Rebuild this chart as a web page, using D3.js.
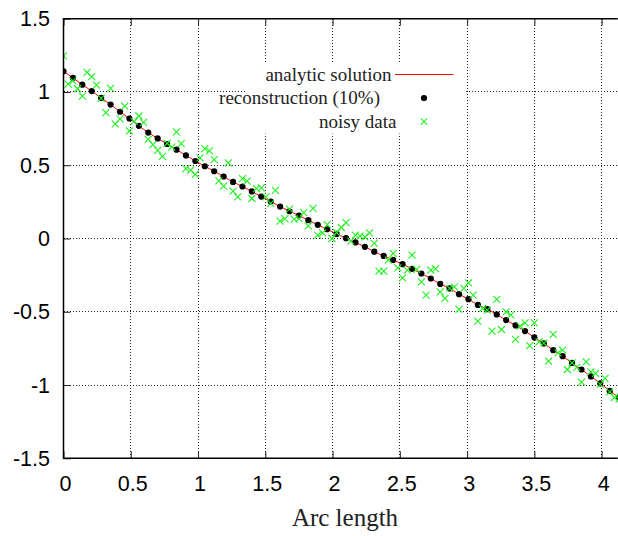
<!DOCTYPE html>
<html>
<head>
<meta charset="utf-8">
<script src="https://cdn.jsdelivr.net/npm/d3@7"></script>
<style>
  html, body { margin: 0; padding: 0; background: #fff; }
  svg { display: block; }
</style>
</head>
<body>
<svg id="chart" width="618" height="536"></svg>
<script>
// Arc-length sampling of the reconstruction (step 0.07) and of the noisy data (step 0.035)
const reconStep = 0.07;
const noisyStep = 0.035;

// Analytic solution sampled on the reconstruction grid
const analyticY = [
  1.141, 1.096, 1.050, 1.006, 0.959, 0.914, 0.865, 0.819, 0.769, 0.723,
  0.683, 0.645, 0.606, 0.567, 0.529, 0.493, 0.459, 0.423, 0.386, 0.355,
  0.321, 0.286, 0.252, 0.218, 0.186, 0.157, 0.125, 0.093, 0.063, 0.031,
  0.002, -0.027, -0.057, -0.090, -0.119, -0.146, -0.175, -0.207, -0.239, -0.273,
  -0.310, -0.341, -0.380, -0.414, -0.453, -0.482, -0.518, -0.557, -0.593, -0.632,
  -0.675, -0.716, -0.762, -0.803, -0.849, -0.894, -0.941, -0.989, -1.040, -1.086
];

// Reconstruction from 10% noisy data
const reconY = [
  1.141, 1.096, 1.050, 1.006, 0.959, 0.914, 0.865, 0.819, 0.769, 0.723,
  0.683, 0.645, 0.606, 0.567, 0.529, 0.493, 0.459, 0.423, 0.386, 0.355,
  0.321, 0.286, 0.252, 0.218, 0.186, 0.157, 0.125, 0.093, 0.063, 0.031,
  0.002, -0.027, -0.057, -0.090, -0.119, -0.146, -0.175, -0.207, -0.239, -0.273,
  -0.310, -0.341, -0.380, -0.414, -0.453, -0.482, -0.518, -0.557, -0.593, -0.632,
  -0.675, -0.716, -0.762, -0.803, -0.849, -0.894, -0.941, -0.989, -1.040, -1.086
];

// Noisy measurements
const noisyY = [
  1.246, 1.053, 1.076, 1.022, 0.972, 1.134, 1.104, 1.046, 0.957, 0.859,
  1.025, 0.783, 0.816, 0.904, 0.735, 0.800, 0.836, 0.793, 0.677, 0.640,
  0.601, 0.561, 0.649, 0.623, 0.727, 0.648, 0.477, 0.466, 0.437, 0.550,
  0.614, 0.598, 0.539, 0.393, 0.357, 0.516, 0.323, 0.284, 0.409, 0.391,
  0.273, 0.341, 0.345, 0.284, 0.239, 0.329, 0.118, 0.136, 0.200, 0.132,
  0.136, 0.177, 0.086, 0.205, 0.023, 0.038, 0.095, 0.000, 0.041, 0.075,
  0.109, -0.018, 0.023, 0.016, 0.011, 0.038, -0.034, -0.223, -0.223, -0.148,
  -0.102, -0.201, -0.269, -0.216, -0.114, -0.211, -0.296, -0.387, -0.216, -0.205,
  -0.364, -0.409, -0.341, -0.330, -0.484, -0.341, -0.303, -0.387, -0.564, -0.477,
  -0.489, -0.632, -0.416, -0.621, -0.501, -0.521, -0.689, -0.598, -0.576, -0.731,
  -0.576, -0.705, -0.714, -0.837, -0.655, -0.780, -0.762, -0.894, -0.849, -0.880,
  -0.980, -0.842, -0.910, -0.921, -0.996, -0.955, -1.046, -1.085, -1.096
];

const xTicks = [0, 0.5, 1, 1.5, 2, 2.5, 3, 3.5, 4];
const xTickLabels = ["0", "0.5", "1", "1.5", "2", "2.5", "3", "3.5", "4"];
const yTicks = [-1.5, -1, -0.5, 0, 0.5, 1, 1.5];
const yTickLabels = ["-1.5", "-1", "-0.5", "0", "0.5", "1", "1.5"];

const seriesNames = ["analytic solution", "reconstruction (10%)", "noisy data"];
const xTitle = "Arc length";

const analytic = analyticY.map((v, i) => ({ x: i * reconStep, y: v }));
const recon = reconY.map((v, i) => ({ x: i * reconStep, y: v }));
const noisy = noisyY.map((v, i) => ({ x: i * noisyStep, y: v }));

const svg = d3.select("#chart");
const plotL = 63.5, plotT = 18.7, plotR = 617.8, plotB = 458.3;

const x = d3.scaleLinear().domain([0, 4.12]).range([plotL, plotR]);
const y = d3.scaleLinear().domain([-1.5, 1.5]).range([plotB, plotT]);

const sans = "'Liberation Sans', Arial, sans-serif";
const serif = "'Liberation Serif', 'Times New Roman', serif";

// Dotted grid
const grid = svg.append("g").attr("class", "grid");
grid.selectAll("line.gx").data(xTicks.filter(d => d > 0)).join("line")
  .attr("class", "gx")
  .attr("x1", d => x(d)).attr("x2", d => x(d))
  .attr("y1", plotT).attr("y2", plotB);
grid.selectAll("line.gy").data(yTicks.filter(d => d > -1.5 && d < 1.5)).join("line")
  .attr("class", "gy")
  .attr("x1", plotL).attr("x2", plotR)
  .attr("y1", d => y(d)).attr("y2", d => y(d));
grid.selectAll("line")
  .attr("stroke", "#222").attr("stroke-width", 1)
  .attr("stroke-dasharray", "1,2").attr("shape-rendering", "crispEdges");

// Legend background interrupts the grid
svg.append("rect").attr("x", 247).attr("y", 62.5).attr("width", 219).attr("height", 71)
  .attr("fill", "#fff");

// Axes with inward ticks, mirrored on top
function styleAxis(g) {
  g.selectAll(".domain").remove();
  g.selectAll(".tick line").attr("stroke", "#222").attr("stroke-width", 1);
}
svg.append("g").attr("transform", `translate(0,${plotB})`)
  .call(d3.axisBottom(x).tickValues(xTicks).tickSize(-7).tickSizeOuter(0).tickFormat(""))
  .call(styleAxis);
svg.append("g").attr("transform", `translate(0,${plotT})`)
  .call(d3.axisTop(x).tickValues(xTicks).tickSize(-7).tickSizeOuter(0).tickFormat(""))
  .call(styleAxis);
svg.append("g").attr("transform", `translate(${plotL},0)`)
  .call(d3.axisLeft(y).tickValues(yTicks).tickSize(-7).tickSizeOuter(0).tickFormat(""))
  .call(styleAxis);

// Tick labels
svg.append("g").selectAll("text").data(xTicks).join("text")
  .attr("x", d => x(d) + 2).attr("y", 491)
  .attr("text-anchor", "middle")
  .attr("font-family", sans).attr("font-size", 21.5).attr("fill", "#000")
  .text((d, i) => xTickLabels[i]);
svg.append("g").selectAll("text").data(yTicks).join("text")
  .attr("x", 50).attr("y", d => y(d) + 7.5)
  .attr("text-anchor", "end")
  .attr("font-family", sans).attr("font-size", 21.5).attr("fill", "#000")
  .text((d, i) => yTickLabels[i]);

// Axis title
svg.append("text").attr("x", 345).attr("y", 526).attr("text-anchor", "middle")
  .attr("font-family", serif).attr("font-size", 25).attr("fill", "#222")
  .text(xTitle);

// Data, clipped to the plotting area
svg.append("clipPath").attr("id", "plotClip").append("rect")
  .attr("x", plotL).attr("y", plotT).attr("width", 618 - plotL).attr("height", plotB - plotT);
const plot = svg.append("g").attr("clip-path", "url(#plotClip)");

const line = d3.line().x(d => x(d.x)).y(d => y(d.y)).curve(d3.curveMonotoneX);
plot.append("path").datum(analytic).attr("d", line)
  .attr("fill", "none").attr("stroke", "#ff0000").attr("stroke-width", 1);

plot.selectAll("circle.rec").data(recon).join("circle")
  .attr("class", "rec")
  .attr("cx", d => x(d.x)).attr("cy", d => y(d.y)).attr("r", 3.1)
  .attr("fill", "#000");

const cross = (g, cx, cy, s) => g.append("path")
  .attr("d", `M${cx - s},${cy - s}L${cx + s},${cy + s}M${cx - s},${cy + s}L${cx + s},${cy - s}`)
  .attr("stroke", "#1ff01f").attr("stroke-width", 1.1).attr("fill", "none");
noisy.forEach(d => cross(plot, x(d.x), y(d.y), 3.5));

// Border (left, top, bottom)
svg.append("path")
  .attr("d", `M${plotR},${plotT}H${plotL}V${plotB}H${plotR}`)
  .attr("fill", "none").attr("stroke", "#000").attr("stroke-width", 1.5);

// Legend
const legend = svg.append("g");
const rows = [74.5, 98, 121.5];
const textRight = [391.5, 380, 396.5];
legend.selectAll("text").data(seriesNames).join("text")
  .attr("x", (d, i) => textRight[i]).attr("y", (d, i) => rows[i] + 6)
  .attr("text-anchor", "end")
  .attr("font-family", serif).attr("font-size", 19).attr("fill", "#222")
  .text(d => d);
legend.append("line").attr("x1", 395).attr("x2", 453.5)
  .attr("y1", rows[0]).attr("y2", rows[0])
  .attr("stroke", "#ff0000").attr("stroke-width", 1);
legend.append("circle").attr("cx", 424).attr("cy", rows[1]).attr("r", 3.1).attr("fill", "#000");
cross(legend, 424, rows[2], 3.2);
</script>
</body>
</html>
